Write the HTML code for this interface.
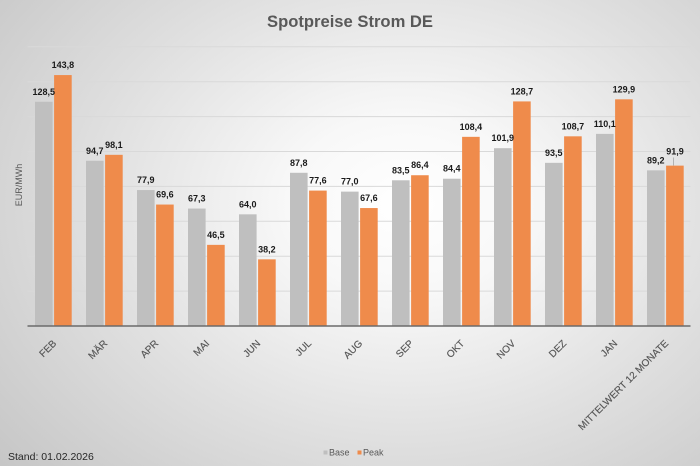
<!DOCTYPE html>
<html><head><meta charset="utf-8"><style>
html,body{margin:0;padding:0;}
body{width:700px;height:466px;overflow:hidden;background:radial-gradient(ellipse 76% 86% at 58% 44%, #ffffff 0%, #f8f8f8 22%, #dfdfdf 60%, #c6c6c6 100%);}
svg{display:block;}
text{font-family:"Liberation Sans",Arial,sans-serif;}
.g{stroke:#d9d9d9;stroke-width:1;}
.b{fill:#bfbfbf;}
.p{fill:#ef8b4b;}
.l{font-size:9px;font-weight:bold;fill:#1a1a1a;text-anchor:middle;}
.x{font-size:10px;fill:#555555;text-anchor:end;stroke:#555555;stroke-width:0.15;}
</style></head><body>
<svg width="700" height="466" viewBox="0 0 700 466" xmlns="http://www.w3.org/2000/svg">
<text x="350" y="27" text-anchor="middle" font-size="16.5" font-weight="bold" fill="#595959" textLength="166" lengthAdjust="spacingAndGlyphs">Spotpreise Strom DE</text>
<g>
<line class="g" x1="27.5" x2="690.5" y1="46.8" y2="46.8"/>
<line class="g" x1="27.5" x2="690.5" y1="81.7" y2="81.7"/>
<line class="g" x1="27.5" x2="690.5" y1="116.6" y2="116.6"/>
<line class="g" x1="27.5" x2="690.5" y1="151.5" y2="151.5"/>
<line class="g" x1="27.5" x2="690.5" y1="186.4" y2="186.4"/>
<line class="g" x1="27.5" x2="690.5" y1="221.3" y2="221.3"/>
<line class="g" x1="27.5" x2="690.5" y1="256.2" y2="256.2"/>
<line class="g" x1="27.5" x2="690.5" y1="291.1" y2="291.1"/>
</g>
<text transform="translate(22,185) rotate(-90)" text-anchor="middle" font-size="9" fill="#595959">EUR/MWh</text>
<!-- bars -->
<rect class="b" x="35" y="101.77" width="17.6" height="224.23"/>
<rect class="p" x="54.1" y="75.07" width="17.6" height="250.93"/>
<rect class="b" x="86" y="160.75" width="17.6" height="165.25"/>
<rect class="p" x="105.1" y="154.82" width="17.6" height="171.18"/>
<rect class="b" x="137" y="190.06" width="17.6" height="135.94"/>
<rect class="p" x="156.1" y="204.55" width="17.6" height="121.45"/>
<rect class="b" x="188" y="208.56" width="17.6" height="117.44"/>
<rect class="p" x="207.1" y="244.86" width="17.6" height="81.14"/>
<rect class="b" x="239" y="214.32" width="17.6" height="111.68"/>
<rect class="p" x="258.1" y="259.34" width="17.6" height="66.66"/>
<rect class="b" x="290" y="172.79" width="17.6" height="153.21"/>
<rect class="p" x="309.1" y="190.59" width="17.6" height="135.41"/>
<rect class="b" x="341" y="191.63" width="17.6" height="134.37"/>
<rect class="p" x="360.1" y="208.04" width="17.6" height="117.96"/>
<rect class="b" x="392" y="180.29" width="17.6" height="145.71"/>
<rect class="p" x="411.1" y="175.23" width="17.6" height="150.77"/>
<rect class="b" x="443" y="178.72" width="17.6" height="147.28"/>
<rect class="p" x="462.1" y="136.84" width="17.6" height="189.16"/>
<rect class="b" x="494" y="148.18" width="17.6" height="177.82"/>
<rect class="p" x="513.1" y="101.42" width="17.6" height="224.58"/>
<rect class="b" x="545" y="162.84" width="17.6" height="163.16"/>
<rect class="p" x="564.1" y="136.32" width="17.6" height="189.68"/>
<rect class="b" x="596" y="133.88" width="17.6" height="192.12"/>
<rect class="p" x="615.1" y="99.32" width="17.6" height="226.68"/>
<rect class="b" x="647" y="170.35" width="17.6" height="155.65"/>
<rect class="p" x="666.1" y="165.63" width="17.6" height="160.37"/>
<line x1="27.5" x2="690.5" y1="326" y2="326" stroke="#6b6b6b" stroke-width="1.5"/>
<!-- labels -->
<text class="l" x="43.8" y="94.8">128,5</text>
<text class="l" x="62.9" y="68.1">143,8</text>
<text class="l" x="94.8" y="153.8">94,7</text>
<text class="l" x="113.9" y="147.8">98,1</text>
<text class="l" x="145.8" y="183.1">77,9</text>
<text class="l" x="164.9" y="197.6">69,6</text>
<text class="l" x="196.8" y="201.6">67,3</text>
<text class="l" x="215.9" y="237.9">46,5</text>
<text class="l" x="247.8" y="207.3">64,0</text>
<text class="l" x="266.9" y="252.3">38,2</text>
<text class="l" x="298.8" y="165.8">87,8</text>
<text class="l" x="317.9" y="183.6">77,6</text>
<text class="l" x="349.8" y="184.6">77,0</text>
<text class="l" x="368.9" y="201.0">67,6</text>
<text class="l" x="400.8" y="173.3">83,5</text>
<text class="l" x="419.9" y="168.2">86,4</text>
<text class="l" x="451.8" y="171.7">84,4</text>
<text class="l" x="470.9" y="129.8">108,4</text>
<text class="l" x="502.8" y="141.2">101,9</text>
<text class="l" x="521.9" y="94.4">128,7</text>
<text class="l" x="553.8" y="155.8">93,5</text>
<text class="l" x="572.9" y="129.3">108,7</text>
<text class="l" x="604.8" y="126.9">110,1</text>
<text class="l" x="623.9" y="92.3">129,9</text>
<text class="l" x="655.8" y="163.3">89,2</text>
<text class="l" x="675" y="154.3">91,9</text>
<line x1="673.5" x2="673.5" y1="157.5" y2="165.5" stroke="#a6a6a6" stroke-width="0.8"/>
<!-- x labels -->
<text class="x" transform="translate(57,344) rotate(-45)">FEB</text>
<text class="x" transform="translate(108,344) rotate(-45)">MÄR</text>
<text class="x" transform="translate(159,344) rotate(-45)">APR</text>
<text class="x" transform="translate(210,344) rotate(-45)">MAI</text>
<text class="x" transform="translate(261,344) rotate(-45)">JUN</text>
<text class="x" transform="translate(312,344) rotate(-45)">JUL</text>
<text class="x" transform="translate(363,344) rotate(-45)">AUG</text>
<text class="x" transform="translate(414,344) rotate(-45)">SEP</text>
<text class="x" transform="translate(465,344) rotate(-45)">OKT</text>
<text class="x" transform="translate(516,344) rotate(-45)">NOV</text>
<text class="x" transform="translate(567,344) rotate(-45)">DEZ</text>
<text class="x" transform="translate(618,344) rotate(-45)">JAN</text>
<text class="x" transform="translate(669,344) rotate(-45)">MITTELWERT 12 MONATE</text>
<!-- legend -->
<rect x="323.5" y="450.5" width="4" height="4" fill="#bfbfbf"/>
<text x="329" y="455.5" font-size="9" fill="#595959">Base</text>
<rect x="357.5" y="450.5" width="4" height="4" fill="#ef8b4b"/>
<text x="363" y="455.5" font-size="9" fill="#595959">Peak</text>
<text x="8" y="460" font-size="10.5" fill="#262626">Stand: 01.02.2026</text>
</svg>
</body></html>
